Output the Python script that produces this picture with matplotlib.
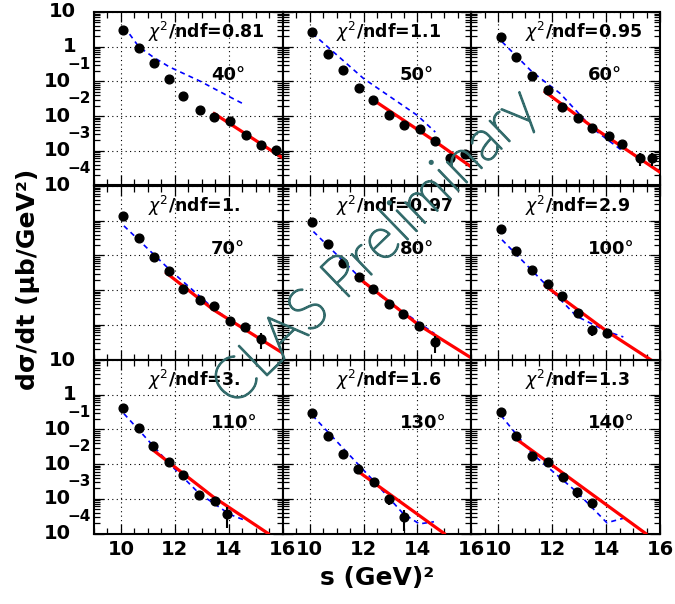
import numpy as np
import matplotlib.pyplot as plt
from matplotlib import transforms, patheffects
from matplotlib.ticker import MultipleLocator, LogLocator, NullFormatter, FixedLocator

# panel labels
angles = ["40°", "50°", "60°", "70°", "80°", "100°", "110°", "130°", "140°"]
chi2 = ["0.81", "1.1", "0.95", "1.", "0.97", "2.9", "3.", "1.6", "1.3"]

# data points: s (GeV^2), dsigma/dt (ub/GeV^2), relative errors
s_40 = [10.08, 10.66, 11.22, 11.79, 12.31, 12.93, 13.46, 14.04, 14.63, 15.19, 15.77]
y_40 = [3.02, 0.933, 0.329, 0.121, 0.0373, 0.0154, 0.00942, 0.00708, 0.00279, 0.0015, 0.00103]
e_40 = [0.05, 0.05, 0.05, 0.05, 0.05, 0.05, 0.05, 0.1, 0.15, 0.3, 0.3]
s_50 = [10.07, 10.68, 11.25, 11.83, 12.36, 12.94, 13.49, 14.09, 14.64, 15.2, 15.78]
y_50 = [2.59, 0.611, 0.211, 0.0649, 0.0286, 0.0105, 0.00542, 0.00415, 0.00187, 0.00063, 0.00082]
e_50 = [0.05, 0.05, 0.05, 0.05, 0.05, 0.05, 0.1, 0.1, 0.15, 0.3, 0.3]
s_60 = [10.1, 10.67, 11.25, 11.83, 12.36, 12.94, 13.49, 14.09, 14.6, 15.26, 15.71]
y_60 = [1.86, 0.491, 0.141, 0.0583, 0.0183, 0.00881, 0.00453, 0.00261, 0.00153, 0.000615, 0.000615]
e_60 = [0.05, 0.05, 0.05, 0.05, 0.05, 0.05, 0.1, 0.1, 0.15, 0.4, 0.4]
s_70 = [10.08, 10.66, 11.22, 11.79, 12.31, 12.93, 13.46, 14.04, 14.59, 15.21]
y_70 = [1.40, 0.321, 0.0893, 0.0344, 0.01076, 0.0053, 0.0034, 0.00126, 0.000847, 0.000394]
e_70 = [0.05, 0.05, 0.05, 0.05, 0.05, 0.05, 0.1, 0.15, 0.2, 0.5]
s_80 = [10.07, 10.68, 11.25, 11.83, 12.36, 12.94, 13.47, 14.06, 14.64]
y_80 = [0.942, 0.215, 0.0601, 0.0238, 0.011, 0.00399, 0.0021, 0.000906, 0.000314]
e_80 = [0.05, 0.05, 0.05, 0.05, 0.05, 0.05, 0.1, 0.15, 0.5]
s_100 = [10.1, 10.67, 11.25, 11.83, 12.36, 12.94, 13.47, 14.03]
y_100 = [0.57, 0.1355, 0.0385, 0.015, 0.0069, 0.0022, 0.000695, 0.000585]
e_100 = [0.05, 0.05, 0.05, 0.05, 0.05, 0.1, 0.3, 0.3]
s_110 = [10.08, 10.66, 11.2, 11.79, 12.31, 12.9, 13.48, 13.95]
y_110 = [0.412, 0.1096, 0.0327, 0.01156, 0.0048, 0.00128, 0.000877, 0.000356]
e_110 = [0.05, 0.05, 0.05, 0.05, 0.1, 0.15, 0.2, 0.6]
s_130 = [10.1, 10.68, 11.25, 11.8, 12.38, 12.96, 13.49]
y_130 = [0.304, 0.0646, 0.0192, 0.0070, 0.00308, 0.00096, 0.000304]
e_130 = [0.05, 0.05, 0.05, 0.05, 0.1, 0.3, 0.6]
s_140 = [10.1, 10.67, 11.25, 11.83, 12.4, 12.92, 13.49]
y_140 = [0.316, 0.0634, 0.0172, 0.01156, 0.00412, 0.00153, 0.000738]
e_140 = [0.05, 0.05, 0.05, 0.05, 0.1, 0.3, 0.2]

# fits (red)
fs_40, fy_40 = [13.46, 14.63, 15.95], [0.0118, 0.00305, 0.00066]
fs_50, fy_50 = [12.32, 14.6, 15.95], [0.0306, 0.002, 0.000363]
fs_60, fy_60 = [11.74, 13.49, 16.0], [0.0498, 0.0049, 0.000242]
fs_70, fy_70 = [11.69, 13.42, 15.95], [0.031, 0.00274, 0.000162]
fs_80, fy_80 = [11.74, 14.06, 15.95], [0.0248, 0.00097, 0.000117]
fs_100, fy_100 = [11.74, 14.03, 15.7], [0.0134, 0.00065, 0.0000933]
fs_110, fy_110 = [11.2, 13.42, 15.46], [0.0251, 0.00114, 0.0001]
fs_130, fy_130 = [11.77, 14.99], [0.00638, 0.0001]
fs_140, fy_140 = [10.63, 15.47], [0.0555, 0.0001]

# model curves (blue dashed)
ms_40, my_40 = [10.12, 10.66, 11.2, 11.79, 12.93, 14.04, 14.59], [3.76, 1.0, 0.50, 0.263, 0.102, 0.0356, 0.0215]
ms_50, my_50 = [10.1, 12.0, 13.99, 14.66], [2.42, 0.121, 0.01054, 0.00347]
ms_60, my_60 = [10.14, 11.25, 12.3, 13.49, 14.58], [1.39, 0.19, 0.0447, 0.00447, 0.00103]
ms_70, my_70 = [10.11, 11.81, 13.48, 14.6], [0.71, 0.0385, 0.00274, 0.000724]
ms_80, my_80 = [10.14, 12.38, 14.63], [0.486, 0.00918, 0.000558]
ms_100, my_100 = [10.14, 11.81, 12.9, 14.03, 14.64], [0.281, 0.0132, 0.00178, 0.000646, 0.000447]
ms_110, my_110 = [10.11, 11.79, 12.9, 14.04, 14.6], [0.284, 0.0104, 0.00143, 0.000355, 0.00024]
ms_130, my_130 = [10.1, 12.35, 13.46, 14.07, 14.61], [0.254, 0.00344, 0.00038, 0.000189, 0.000218]
ms_140, my_140 = [10.1, 11.25, 12.91, 14.03, 14.64], [0.254, 0.02, 0.00158, 0.000204, 0.000275]

points = [(s_40, y_40, e_40), (s_50, y_50, e_50), (s_60, y_60, e_60),
          (s_70, y_70, e_70), (s_80, y_80, e_80), (s_100, y_100, e_100),
          (s_110, y_110, e_110), (s_130, y_130, e_130), (s_140, y_140, e_140)]
fits = [(fs_40, fy_40), (fs_50, fy_50), (fs_60, fy_60), (fs_70, fy_70), (fs_80, fy_80),
        (fs_100, fy_100), (fs_110, fy_110), (fs_130, fy_130), (fs_140, fy_140)]
models = [(ms_40, my_40), (ms_50, my_50), (ms_60, my_60), (ms_70, my_70), (ms_80, my_80),
          (ms_100, my_100), (ms_110, my_110), (ms_130, my_130), (ms_140, my_140)]

xticks = [10, 12, 14, 16]
decades = [10, 1, 1e-1, 1e-2, 1e-3, 1e-4]
exps = ["", "", "\u22121", "\u22122", "\u22123", "\u22124"]

W, H = 675, 604
fig = plt.figure(figsize=(W / 100, H / 100), dpi=100)
plt.rcParams['font.family'] = 'DejaVu Sans'

col_left = [94, 282.7, 471.3]
col_w = 188.7
row_top = [12, 186, 360]
row_h = 173.5

for k in range(9):
    r, c = divmod(k, 3)
    ax = fig.add_axes([col_left[c] / W, 1 - (row_top[r] + row_h) / H, col_w / W, row_h / H])
    ax.set_yscale('log')
    ax.set_xlim(9, 16)
    ax.set_ylim(1e-4, 10)
    ax.xaxis.set_major_locator(FixedLocator(xticks))
    ax.xaxis.set_minor_locator(MultipleLocator(0.5))
    ax.yaxis.set_major_locator(LogLocator(base=10, numticks=10))
    ax.yaxis.set_minor_locator(LogLocator(base=10, subs=np.arange(2, 10), numticks=20))
    ax.yaxis.set_major_formatter(NullFormatter())
    ax.yaxis.set_minor_formatter(NullFormatter())
    ax.tick_params(which='both', direction='in', top=True, right=True, width=0.9)
    ax.tick_params(which='major', length=7)
    ax.tick_params(which='minor', length=4)
    ax.grid(True, which='major', color='black', linestyle=(0, (1, 3)), linewidth=0.8)
    for sp in ax.spines.values():
        sp.set_linewidth(1.5)
    if r == 2:
        ax.set_xticklabels([str(v) for v in xticks], fontsize=14, fontweight='bold')
        ax.tick_params(axis='x', which='major', pad=5)
    else:
        ax.set_xticklabels([])

    s, y, e = points[k]
    y = np.array(y)
    ax.errorbar(s, y, yerr=y * np.array(e), fmt='o', color='black', markersize=6.3,
                elinewidth=1.5, capsize=0, zorder=5)
    fs, fy = fits[k]
    ax.plot(fs, fy, color='red', linewidth=2.3, zorder=4)
    ms, my = models[k]
    ax.plot(ms, my, color='blue', linestyle=(0, (3, 2.5)), linewidth=1.2, zorder=3)

    ax.text(0.285, 0.884, r"$\chi^2$/ndf=" + chi2[k], transform=ax.transAxes,
            fontsize=12.5, fontweight='bold', ha='left', va='center')
    ax.text(0.62, 0.636, angles[k], transform=ax.transAxes,
            fontsize=13, fontweight='bold', ha='left', va='center')

    # ROOT-like y labels on the left column (middle row shares its edge labels)
    if c == 0 and r != 1:
        trans = transforms.blended_transform_factory(ax.transAxes, ax.transData)
        up = transforms.offset_copy(trans, fig=fig, x=0, y=12.5, units='points')
        for v, ex in zip(decades, exps):
            if ex:
                ax.text(-0.125, v, "10", transform=trans, fontsize=14, fontweight='bold',
                        ha='right', va='center', clip_on=False)
                ax.text(-0.14, v, ex, transform=up, fontsize=11, fontweight='bold',
                        ha='left', va='center', clip_on=False)
            else:
                ax.text(-0.095, v, "10" if v == 10 else "1", transform=trans, fontsize=14,
                        fontweight='bold', ha='right', va='center', clip_on=False)

fig.text(28 / W, 1 - 279 / H, "dσ/dt (μb/GeV²)", rotation=90, fontsize=18,
         fontweight='bold', ha='center', va='center')
fig.text(377 / W, 1 - 578 / H, "s (GeV)²", fontsize=18, fontweight='bold',
         ha='center', va='center')
wm_color = '#336b6b'
fig.text(376 / W, 1 - 248 / H, "CLAS Preliminary", rotation=44, fontsize=42,
         family=['Lato', 'Liberation Sans'], fontweight='light', color=wm_color,
         ha='center', va='center', rotation_mode='anchor', zorder=10,
         path_effects=[patheffects.withStroke(linewidth=1.4, foreground=wm_color)])

fig.savefig("out.png", dpi=100)
